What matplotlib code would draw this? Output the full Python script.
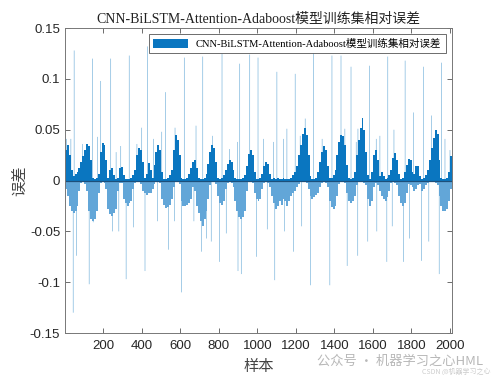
import numpy as np
import matplotlib
matplotlib.use('Agg')
import matplotlib.pyplot as plt

plt.rcParams['font.family'] = ['Liberation Sans', 'Noto Sans CJK SC']

title = 'CNN-BiLSTM-Attention-Adaboost模型训练集相对误差'
bin_size = 10  # samples per bar group

# bulk of the positive errors, one value per 10 samples
pos_bin = [
    .030, .035, .025, .010, .004, .006, .008, .012, .018, .024,
    .030, .036, .034, .020, .003, .002, .003, .006, .028, .037,
    .035, .020, .003, .010, .012, .005, .002, .003, .012, .013,
    .005, .002, .002, .002, .003, .005, .010, .025, .032, .030,
    .018, .003, .006, .017, .010, .003, .015, .028, .035, .030,
    .008, .002, .002, .003, .005, .010, .030, .045, .040, .025,
    .003, .002, .002, .003, .006, .012, .018, .020, .012, .003,
    .002, .002, .003, .006, .016, .028, .035, .032, .018, .003,
    .002, .003, .005, .010, .016, .020, .018, .010, .003, .002,
    .002, .002, .003, .005, .014, .026, .030, .025, .008, .002,
    .002, .003, .006, .014, .018, .016, .006, .002, .003, .002,
    .003, .002, .002, .003, .002, .002, .002, .003, .005, .008,
    .014, .025, .035, .046, .052, .045, .025, .004, .002, .002,
    .003, .008, .018, .028, .034, .030, .014, .003, .003, .005,
    .010, .025, .038, .045, .044, .035, .015, .003, .002, .003,
    .008, .025, .040, .052, .062, .050, .028, .005, .002, .008,
    .025, .030, .020, .004, .008, .004, .002, .003, .005, .010,
    .022, .027, .020, .006, .002, .003, .008, .015, .021, .020,
    .008, .006, .014, .014, .004, .002, .003, .005, .010, .020,
    .032, .042, .050, .046, .020, .003, .002, .002, .003, .008,
    .024,
]

# bulk of the negative errors, one value per 10 samples
neg_bin = [
    -.008, -.015, -.025, -.030, -.032, -.030, -.025, -.010, -.002, -.001,
    -.003, -.010, -.030, -.038, -.040, -.038, -.030, -.012, -.002, -.001,
    -.002, -.008, -.028, -.033, -.035, -.032, -.028, -.010, -.002, -.002,
    -.018, -.022, -.025, -.022, -.020, -.008, -.002, -.001, -.001, -.003,
    -.010, -.012, -.014, -.012, -.012, -.008, -.003, -.001, -.001, -.002,
    -.018, -.024, -.027, -.026, -.024, -.018, -.006, -.001, -.001, -.003,
    -.020, -.025, -.025, -.024, -.022, -.018, -.006, -.010, -.025, -.032,
    -.040, -.045, -.038, -.030, -.018, -.004, -.001, -.001, -.003, -.015,
    -.022, -.024, -.020, -.008, -.002, -.001, -.002, -.006, -.020, -.030,
    -.036, -.038, -.036, -.030, -.010, -.001, -.001, -.002, -.012, -.018,
    -.020, -.018, -.008, -.002, -.001, -.002, -.006, -.015, -.022, -.028,
    -.025, -.020, -.024, -.018, -.020, -.025, -.020, -.015, -.012, -.010,
    -.006, -.003, -.001, -.001, -.001, -.002, -.008, -.015, -.018, -.016,
    -.014, -.012, -.006, -.002, -.001, -.002, -.006, -.020, -.026, -.028,
    -.025, -.015, -.003, -.001, -.001, -.002, -.012, -.020, -.022, -.020,
    -.015, -.004, -.001, -.001, -.001, -.002, -.004, -.018, -.025, -.020,
    -.006, -.002, -.004, -.010, -.015, -.018, -.020, -.016, -.010, -.002,
    -.001, -.002, -.004, -.015, -.022, -.025, -.022, -.012, -.003, -.004,
    -.006, -.010, -.008, -.004, -.003, -.010, -.008, -.004, -.002, -.001,
    -.001, -.001, -.002, -.004, -.015, -.025, -.030, -.030, -.028, -.020,
    -.008,
]

# single-sample spikes (sample index, relative error)
spike_x = [
    48, 143, 186, 238, 334, 430, 523, 620, 716, 816, 908, 960, 1003,
    1101, 1196, 1291, 1387, 1434, 1486, 1581, 1677, 1767, 1862, 1957,
    8, 31, 92, 170, 266, 290, 374, 399, 460, 503, 572, 681, 767, 854,
    897, 1032, 1084, 1136, 1153, 1222, 1248, 1336, 1454, 1513, 1522,
    1617, 1636, 1709, 1810, 1905, 1974, 2000,
    43, 60, 126, 147, 247, 318, 356, 416, 537, 606, 709, 735, 804, 838,
    899, 916, 995, 1051, 1090, 1188, 1275, 1376, 1466, 1521, 1573, 1672,
    1759, 1853, 1944, 1790, 1890, 1140, 1230, 570, 670, 480, 280, 760,
    1620, 1700,
]
spike_y = [
    .128, .120, .098, .120, .123, .132, .087, .121, .122, .125, .115, .124, .121,
    .107, .105, .130, .123, .123, .112, .113, .122, .118, .112, .116,
    .041, .041, .036, .043, .028, .034, .036, .052, .041, .048, .052, .054, .044, .031,
    .038, .041, .038, .041, .051, .044, .061, .041, .051, .038, .051,
    .041, .044, .050, .067, .064, .041, .030,
    -.130, -.074, -.102, -.041, -.050, -.097, -.046, -.089, -.068, -.110, -.070, -.057, -.080, -.052,
    -.089, -.092, -.075, -.048, -.098, -.070, -.103, -.103, -.084, -.074, -.060, -.080,
    -.080, -.079, -.092, -.057, -.060, -.050, -.045, -.040, -.040, -.040, -.050, -.060,
    -.050, -.045,
]

n_samples = len(pos_bin) * bin_size
centers = np.arange(len(pos_bin)) * bin_size + bin_size / 2 + 0.5
blue = '#0072BD'
serif = ['Liberation Serif', 'Noto Sans CJK SC']

fig = plt.figure(figsize=(5, 3.75), dpi=100)
ax = fig.add_axes([0.13, 0.112, 0.774, 0.813])

ax.bar(spike_x, spike_y, width=3, color=blue, linewidth=0, alpha=0.6,
       snap=False)
ax.bar(centers, neg_bin, width=bin_size, color='#62a6d8', linewidth=0,
       antialiased=False)
ax.bar(centers, pos_bin, width=bin_size, color='#0a76c0', linewidth=0,
       antialiased=False, label=title)
ax.axhline(0, color='#1d4f7a', lw=0.9)

ax.set_xlim(0.5, n_samples + 0.5)
ax.set_ylim(-0.15, 0.15)
ax.set_xticks(np.arange(200, 2001, 200))
ax.set_yticks([-0.15, -0.1, -0.05, 0, 0.05, 0.1, 0.15])
ax.set_yticklabels(['-0.15', '-0.1', '-0.05', '0', '0.05', '0.1', '0.15'])
ax.tick_params(direction='in', length=3.5, width=0.6, top=True, right=True,
               labelsize=9.5, labelcolor='#262626', color='#555555')
ax.tick_params(axis='x', pad=5)
for s in ax.spines.values():
    s.set_color('#777777')
    s.set_linewidth(0.7)

ax.set_title(title, fontsize=10, family=serif, color='#222222', pad=4)
ax.set_xlabel('样本', fontsize=11, family=serif, color='#444444', labelpad=6)
ax.set_ylabel('误差', fontsize=11, family=serif, color='#444444', labelpad=2)

leg = ax.legend(loc='upper right', prop={'family': serif, 'size': 7.6},
                fancybox=False, framealpha=1, edgecolor='#555555',
                handlelength=3.3, handleheight=0.95, borderpad=0.4,
                borderaxespad=0.6)
leg.get_frame().set_linewidth(0.6)

# watermark, kept just under the tick labels
fig.text(0.966, 0.036, '公众号 · 机器学习之心HML', ha='right', va='center',
         fontsize=9.5, color='#b8b8b8', family=['Noto Sans CJK SC'])
fig.text(0.982, 0.010, 'CSDN @机器学习之心', ha='right', va='center',
         fontsize=5, color='#cccccc', family=['Noto Sans CJK SC'])

fig.savefig('out.png', dpi=100)
plt.close(fig)
